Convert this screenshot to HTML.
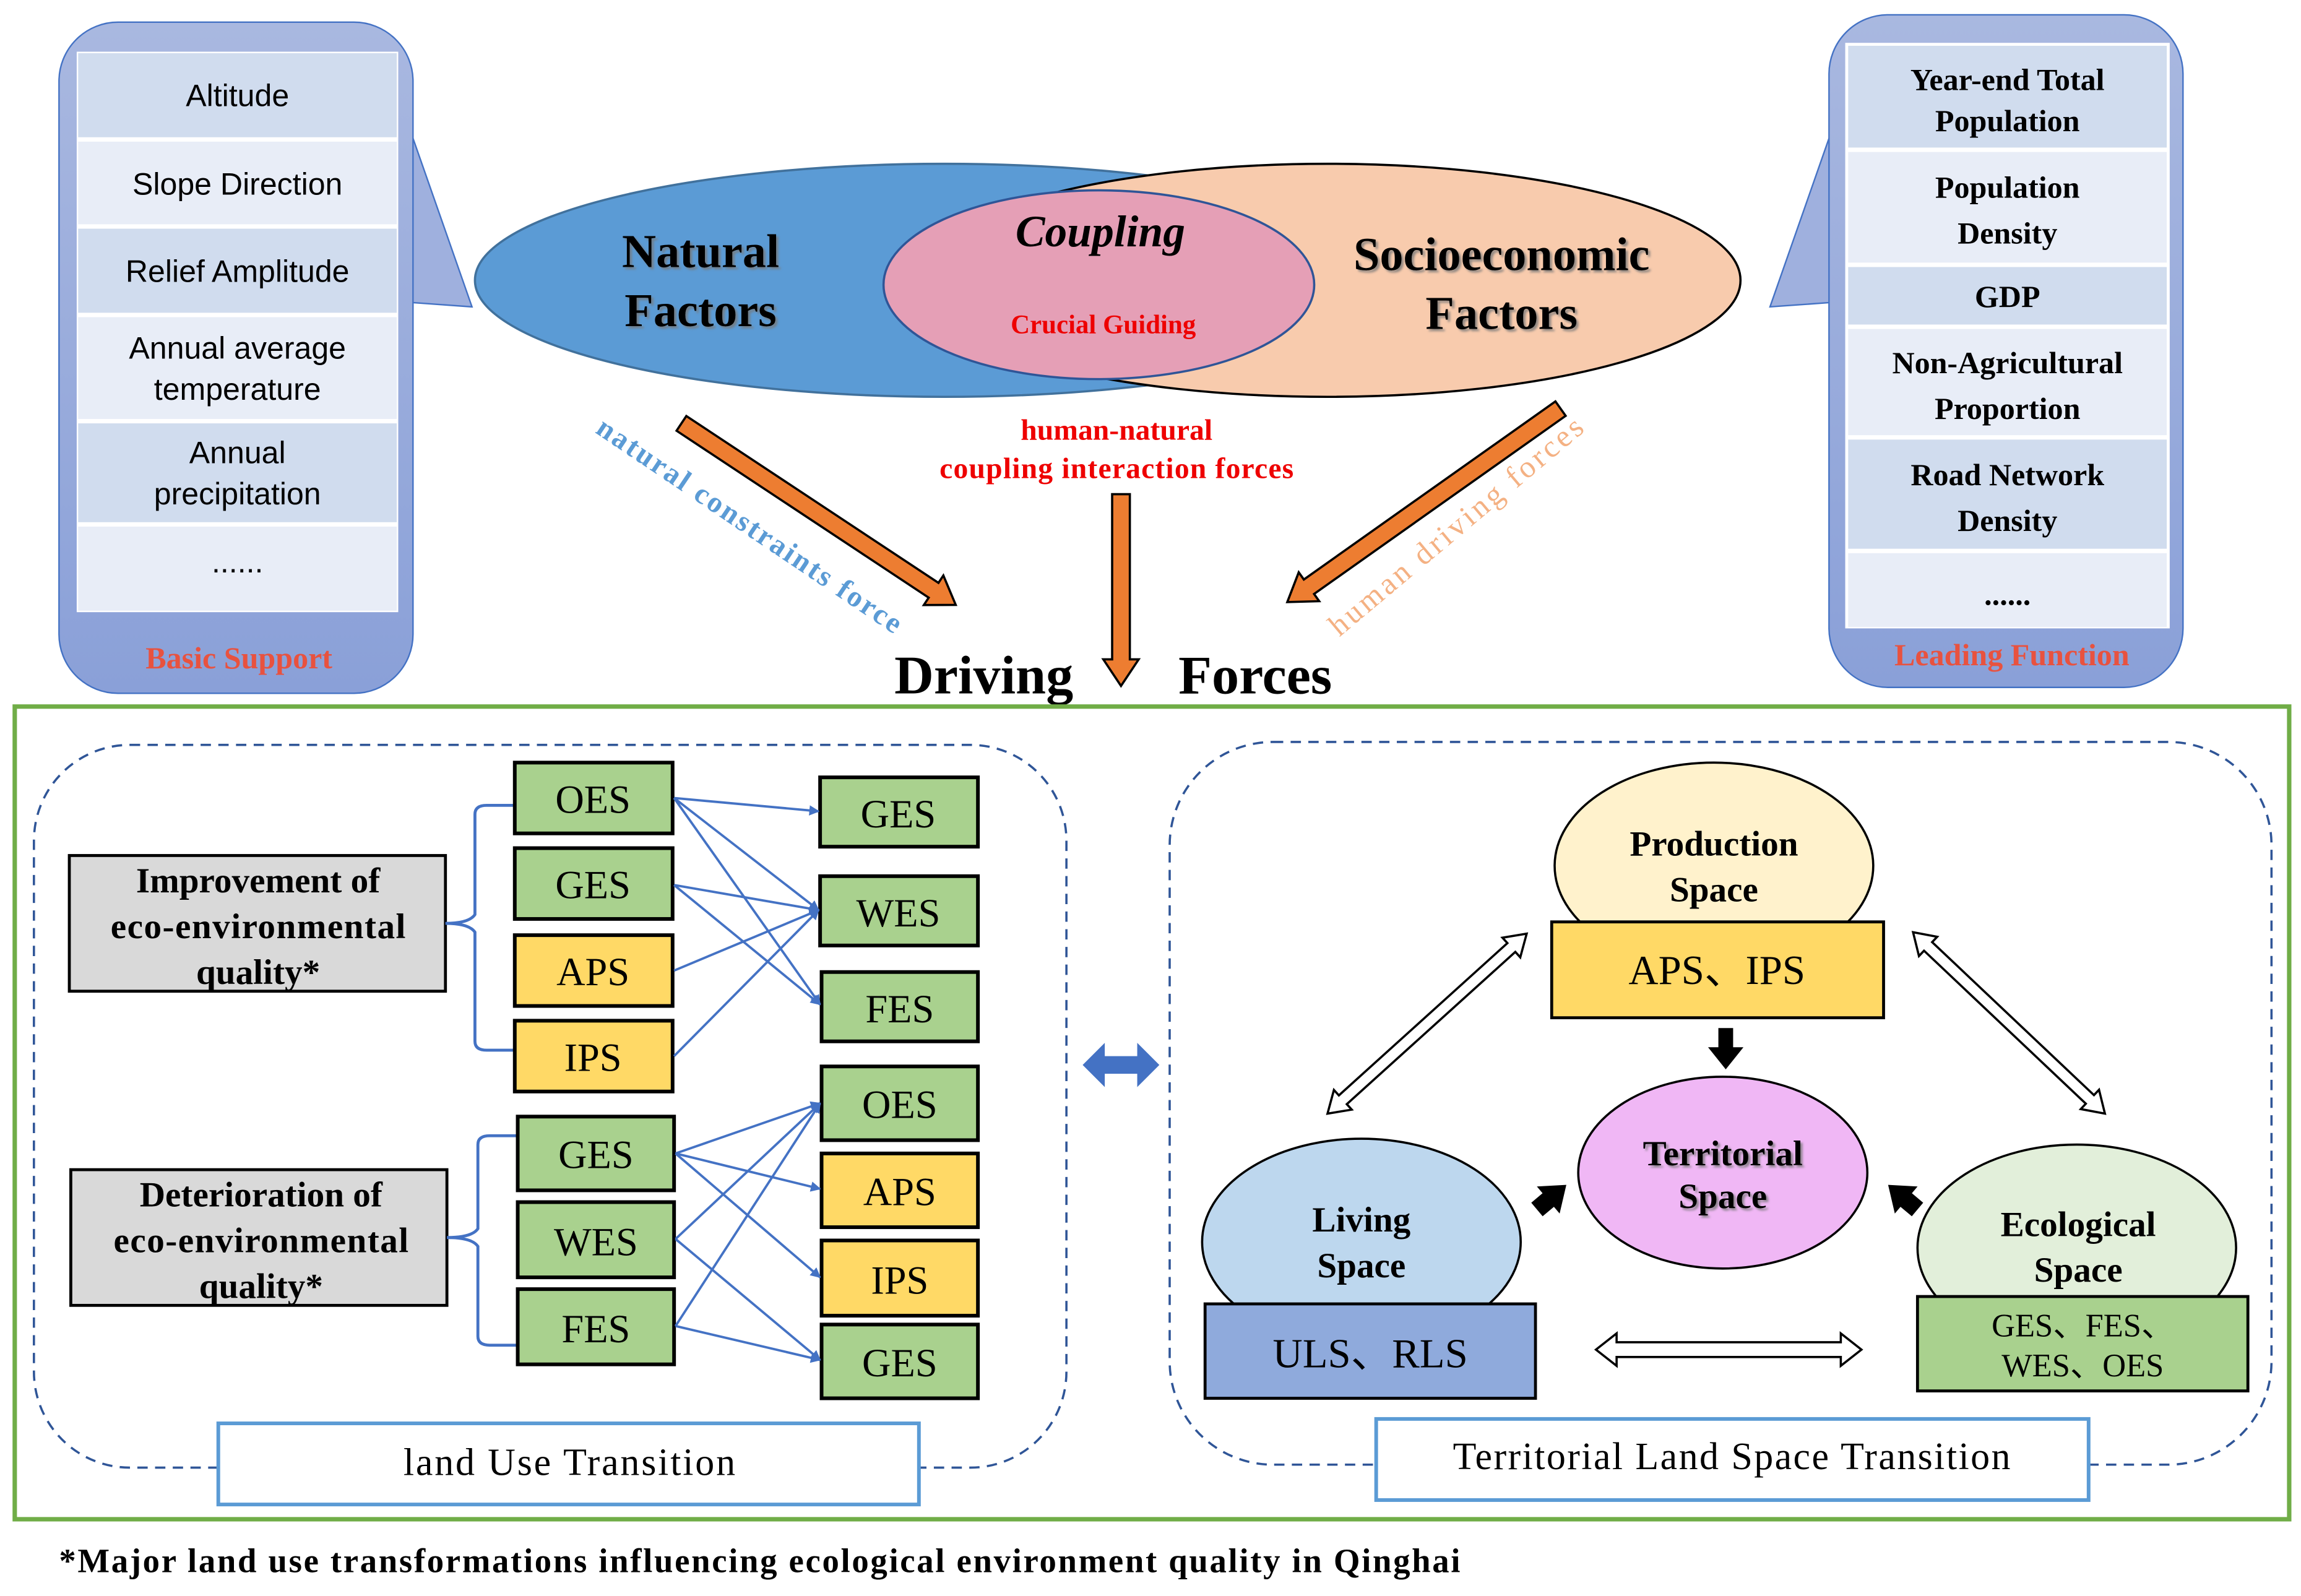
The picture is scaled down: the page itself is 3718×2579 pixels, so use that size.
<!DOCTYPE html>
<html><head><meta charset="utf-8"><style>
html,body{margin:0;padding:0;background:#fff;}
svg{display:block;}
.s{font-family:"Liberation Sans",sans-serif;}
.r{font-family:"Liberation Serif",serif;font-weight:bold;}
.n{font-family:"Liberation Serif",serif;}
</style></head><body>
<svg width="3718" height="2579" viewBox="0 0 1560 1082" xmlns="http://www.w3.org/2000/svg">
<defs>
<linearGradient id="lg" x1="0" y1="0" x2="0" y2="1"><stop offset="0" stop-color="#a9b8e0"/><stop offset="1" stop-color="#8aa0d8"/></linearGradient>
<marker id="ah" viewBox="0 0 10 10" refX="9" refY="5" markerWidth="7" markerHeight="7" orient="auto" markerUnits="userSpaceOnUse"><path d="M0,0 L10,5 L0,10 Z" fill="#4472c4"/></marker>
<filter id="sh"><feDropShadow dx="1.5" dy="1.5" stdDeviation="0.8" flood-color="#777" flood-opacity="0.8"/></filter>
</defs>

<!-- Left panel -->
<polygon points="278,88 320,208 278,205" fill="#9fb0de" stroke="#4472c4" stroke-width="1"/>
<rect x="40" y="15" width="240" height="455" rx="40" fill="url(#lg)" stroke="#4472c4" stroke-width="1"/>
<rect x="52" y="35" width="218" height="380" fill="#fff"/>
<g class="s" font-size="21" text-anchor="middle" fill="#000">
<rect x="53" y="36" width="216" height="57" fill="#d0dcee"/><text x="161" y="72">Altitude</text>
<rect x="53" y="96" width="216" height="56" fill="#e8edf7"/><text x="161" y="132">Slope Direction</text>
<rect x="53" y="155" width="216" height="57" fill="#d0dcee"/><text x="161" y="191">Relief Amplitude</text>
<rect x="53" y="215" width="216" height="69" fill="#e8edf7"/><text x="161" y="243">Annual average</text><text x="161" y="271">temperature</text>
<rect x="53" y="287" width="216" height="67" fill="#d0dcee"/><text x="161" y="314">Annual</text><text x="161" y="342">precipitation</text>
<rect x="53" y="357" width="216" height="57" fill="#e8edf7"/><text x="161" y="388">......</text>
</g>
<text x="162" y="453" class="r" font-size="21" fill="#e8523f" text-anchor="middle">Basic Support</text>

<!-- Right panel -->
<polygon points="1242,88 1200,208 1242,205" fill="#9fb0de" stroke="#4472c4" stroke-width="1"/>
<rect x="1240" y="10" width="240" height="456" rx="40" fill="url(#lg)" stroke="#4472c4" stroke-width="1"/>
<rect x="1251" y="29" width="220" height="397" fill="#fff"/>
<g class="r" font-size="21" text-anchor="middle" fill="#000">
<rect x="1253" y="31" width="216" height="69" fill="#d0dcee"/><text x="1361" y="61">Year-end Total</text><text x="1361" y="89">Population</text>
<rect x="1253" y="103" width="216" height="75" fill="#e8edf7"/><text x="1361" y="134">Population</text><text x="1361" y="165">Density</text>
<rect x="1253" y="181" width="216" height="39" fill="#d0dcee"/><text x="1361" y="208">GDP</text>
<rect x="1253" y="223" width="216" height="72" fill="#e8edf7"/><text x="1361" y="253">Non-Agricultural</text><text x="1361" y="284">Proportion</text>
<rect x="1253" y="298" width="216" height="74" fill="#d0dcee"/><text x="1361" y="329">Road Network</text><text x="1361" y="360">Density</text>
<rect x="1253" y="375" width="216" height="50" fill="#e8edf7"/><text x="1361" y="410">......</text>
</g>
<text x="1364" y="451" class="r" font-size="21" fill="#e8523f" text-anchor="middle">Leading Function</text>

<!-- Ellipses -->
<ellipse cx="640" cy="190" rx="318" ry="79" fill="#5b9bd5" stroke="#41719c" stroke-width="1.5"/>
<ellipse cx="900" cy="190" rx="280" ry="79" fill="#f8cbad" stroke="#000" stroke-width="1.5"/>
<ellipse cx="745" cy="193" rx="146" ry="64" fill="#e59fb6" stroke="#2f5597" stroke-width="1.5"/>
<g class="r" font-size="32" text-anchor="middle" filter="url(#sh)">
<text x="475" y="181">Natural</text><text x="475" y="221">Factors</text>
<text x="1018" y="183">Socioeconomic</text><text x="1018" y="223">Factors</text>
</g>
<text x="746" y="167" class="r" font-style="italic" font-size="30" text-anchor="middle">Coupling</text>
<text x="748" y="226" class="r" font-size="18" fill="#e00" text-anchor="middle">Crucial Guiding</text>

<!-- Orange arrows -->
<g fill="#ed7d31" stroke="#000" stroke-width="1.5">
<path transform="translate(462,287) rotate(33.5)" d="M0,-6 L205,-6 L205,-12 L223,0 L205,12 L205,6 L0,6 Z"/>
<path transform="translate(1058,277) rotate(144.7)" d="M0,-6 L209,-6 L209,-12 L227,0 L209,12 L209,6 L0,6 Z"/>
<path transform="translate(760,335) rotate(90)" d="M0,-6 L112,-6 L112,-12 L130,0 L112,12 L112,6 L0,6 Z"/>
</g>
<text transform="translate(403,293) rotate(34)" class="r" font-size="20" fill="#5b9bd5" textLength="245">natural constraints force</text>
<text transform="translate(908,432) rotate(-40)" class="n" font-size="21" fill="#f4b183" textLength="218">human driving forces</text>
<g class="r" font-size="20" fill="#e00" text-anchor="middle"><text x="757" y="298">human-natural</text><text x="757" y="324" textLength="240">coupling interaction forces</text></g>
<text x="667" y="470" class="r" font-size="37" text-anchor="middle">Driving</text>
<text x="851" y="470" class="r" font-size="37" text-anchor="middle">Forces</text>

<!-- Green frame -->
<rect x="10" y="479" width="1542" height="551" fill="none" stroke="#70ad47" stroke-width="3"/>

<!-- Left dashed region -->
<rect x="23" y="505" width="700" height="490" rx="65" fill="none" stroke="#2f5597" stroke-width="1.5" stroke-dasharray="7,5"/>
<rect x="148" y="965" width="475" height="55" fill="#fff" stroke="#5b9bd5" stroke-width="2.5"/>
<text x="386" y="1000" class="n" font-size="26" text-anchor="middle" textLength="225">land Use Transition</text>

<g class="r" font-size="24" text-anchor="middle">
<rect x="47" y="580" width="255" height="92" fill="#d9d9d9" stroke="#000" stroke-width="2"/>
<text x="175" y="605">Improvement of</text><text x="175" y="636" textLength="200">eco-environmental</text><text x="175" y="667">quality*</text>
<rect x="48" y="793" width="255" height="92" fill="#d9d9d9" stroke="#000" stroke-width="2"/>
<text x="177" y="818">Deterioration of</text><text x="177" y="849" textLength="200">eco-environmental</text><text x="177" y="880">quality*</text>
</g>

<!-- brackets -->
<g fill="none" stroke="#4472c4" stroke-width="2">
<path d="M302,626 Q318,626 322,620 L322,552 Q322,546 330,546 L349,546"/>
<path d="M302,626 Q318,626 322,632 L322,706 Q322,712 330,712 L349,712"/>
<path d="M303,839 Q320,839 324,833 L324,776 Q324,770 332,770 L351,770"/>
<path d="M303,839 Q320,839 324,845 L324,906 Q324,912 332,912 L351,912"/>
</g>

<g stroke="#000" stroke-width="2.5">
<rect x="349" y="517" width="107" height="48" fill="#a9d18e"/>
<rect x="349" y="575" width="107" height="48" fill="#a9d18e"/>
<rect x="349" y="634" width="107" height="48" fill="#ffd966"/>
<rect x="349" y="692" width="107" height="48" fill="#ffd966"/>
<rect x="351" y="757" width="106" height="50" fill="#a9d18e"/>
<rect x="351" y="815" width="106" height="51" fill="#a9d18e"/>
<rect x="351" y="874" width="106" height="51" fill="#a9d18e"/>
<rect x="556" y="527" width="107" height="47" fill="#a9d18e"/>
<rect x="556" y="594" width="107" height="47" fill="#a9d18e"/>
<rect x="557" y="659" width="106" height="47" fill="#a9d18e"/>
<rect x="557" y="723" width="106" height="50" fill="#a9d18e"/>
<rect x="557" y="782" width="106" height="50" fill="#ffd966"/>
<rect x="557" y="841" width="106" height="51" fill="#ffd966"/>
<rect x="557" y="898" width="106" height="50" fill="#a9d18e"/>
</g>
<g class="n" font-size="27" text-anchor="middle">
<text x="402" y="551">OES</text><text x="402" y="609">GES</text><text x="402" y="668">APS</text><text x="402" y="726">IPS</text>
<text x="404" y="792">GES</text><text x="404" y="851">WES</text><text x="404" y="910">FES</text>
<text x="609" y="561">GES</text><text x="609" y="628">WES</text><text x="610" y="693">FES</text>
<text x="610" y="758">OES</text><text x="610" y="817">APS</text><text x="610" y="877">IPS</text><text x="610" y="933">GES</text>
</g>
<g stroke="#4472c4" stroke-width="1.6" marker-end="url(#ah)">
<line x1="457" y1="541" x2="555" y2="550"/>
<line x1="457" y1="541" x2="555" y2="617"/>
<line x1="457" y1="541" x2="556" y2="681"/>
<line x1="457" y1="600" x2="555" y2="617"/>
<line x1="457" y1="600" x2="556" y2="681"/>
<line x1="457" y1="658" x2="555" y2="617"/>
<line x1="457" y1="716" x2="555" y2="617"/>
<line x1="458" y1="782" x2="556" y2="748"/>
<line x1="458" y1="782" x2="556" y2="806"/>
<line x1="458" y1="782" x2="556" y2="866"/>
<line x1="458" y1="840" x2="556" y2="748"/>
<line x1="458" y1="840" x2="556" y2="922"/>
<line x1="458" y1="899" x2="556" y2="748"/>
<line x1="458" y1="899" x2="556" y2="922"/>
</g>

<!-- blue double arrow -->
<path d="M734,722 L749,707 L749,716 L771,716 L771,707 L786,722 L771,737 L771,728 L749,728 L749,737 Z" fill="#4472c4"/>

<!-- Right dashed region -->
<rect x="793" y="503" width="747" height="490" rx="70" fill="none" stroke="#2f5597" stroke-width="1.5" stroke-dasharray="7,5"/>
<rect x="933" y="962" width="483" height="55" fill="#fff" stroke="#5b9bd5" stroke-width="2.5"/>
<text x="1174" y="996" class="n" font-size="26" text-anchor="middle" textLength="378">Territorial Land Space Transition</text>

<g stroke="#000" stroke-width="1.5">
<ellipse cx="1162" cy="587" rx="108" ry="70" fill="#fff2cc"/>
<rect x="1052" y="625" width="225" height="65" fill="#ffd966" stroke-width="2"/>
<ellipse cx="1168" cy="795" rx="98" ry="65" fill="#f0b7f5"/>
<ellipse cx="923" cy="842" rx="108" ry="70" fill="#bdd7ee"/>
<rect x="817" y="884" width="224" height="64" fill="#8faadc" stroke-width="2"/>
<ellipse cx="1408" cy="846" rx="108" ry="70" fill="#e2efda"/>
<rect x="1300" y="879" width="224" height="64" fill="#a9d18e" stroke-width="2"/>
</g>
<g class="r" font-size="24" text-anchor="middle">
<text x="1162" y="580">Production</text><text x="1162" y="611">Space</text>
<text x="1168" y="790" filter="url(#sh)">Territorial</text><text x="1168" y="819" filter="url(#sh)">Space</text>
<text x="923" y="835">Living</text><text x="923" y="866">Space</text>
<text x="1409" y="838">Ecological</text><text x="1409" y="869">Space</text>
</g>
<g class="n" text-anchor="middle">
<text x="1164" y="667" font-size="28">APS、IPS</text>
<text x="929" y="927" font-size="28">ULS、RLS</text>
<text x="1412" y="906" font-size="22">GES、FES、</text>
<text x="1412" y="933" font-size="22">WES、OES</text>
</g>
<!-- hollow arrows -->
<g fill="#fff" stroke="#000" stroke-width="1.5">
<path transform="translate(900,755) rotate(-42.1)" d="M0,0 L14,-9 L14,-4 L168,-4 L168,-9 L182,0 L168,9 L168,4 L14,4 L14,9 Z"/>
<path transform="translate(1297,632) rotate(43.4)" d="M0,0 L14,-9 L14,-4 L165,-4 L165,-9 L179,0 L165,9 L165,4 L14,4 L14,9 Z"/>
<path transform="translate(1082,915)" d="M0,0 L14,-11 L14,-5 L166,-5 L166,-11 L180,0 L166,11 L166,5 L14,5 L14,11 Z"/>
</g>
<!-- black arrows -->
<path d="M1165,697 L1175,697 L1175,710 L1182,710 L1170,725 L1158,710 L1165,710 Z" fill="#000"/>
<path transform="translate(1042,820) rotate(-40)" d="M0,-6 L10,-6 L10,-12 L26,0 L10,12 L10,6 L0,6 Z" fill="#000"/>
<path transform="translate(1300,820) rotate(220)" d="M0,-6 L10,-6 L10,-12 L26,0 L10,12 L10,6 L0,6 Z" fill="#000"/>

<text x="40" y="1066" class="r" font-size="23" textLength="950">*Major land use transformations influencing ecological environment quality in Qinghai</text>
</svg>
</body></html>
